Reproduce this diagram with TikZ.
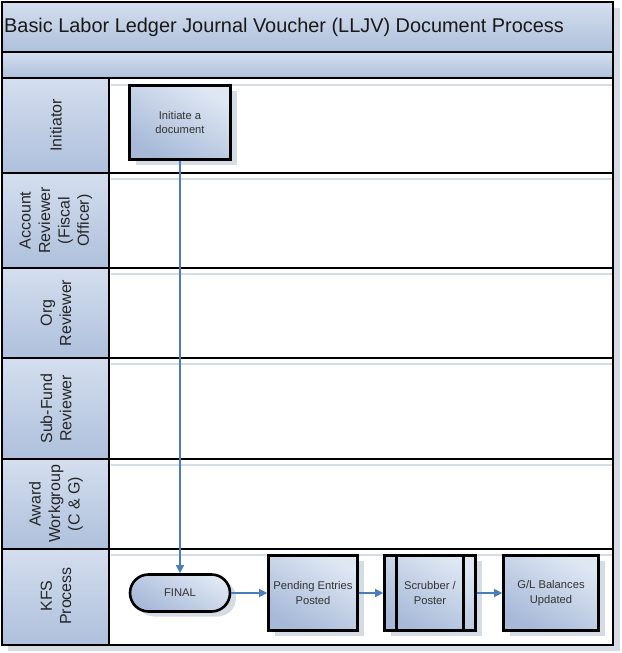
\documentclass[tikz,border=0pt]{standalone}
\usepackage{fontspec}
\setmainfont{Liberation Sans}
\usetikzlibrary{shadows,calc,arrows.meta}
\definecolor{hdlight}{HTML}{D4DEEE}
\definecolor{hddark}{HTML}{AEC0DC}
\definecolor{bxlight}{HTML}{DFE7F3}
\definecolor{bxdark}{HTML}{A6B9D8}
\definecolor{flow}{HTML}{4A7EBB}
\definecolor{lanesh}{HTML}{D5DCE6}
\newcommand{\lanefont}{\fontsize{16}{19.4}\selectfont}
\newcommand{\stepfont}{\fontsize{11.2}{14.5}\selectfont}

\begin{document}
\begin{tikzpicture}[ x = 1pt, y = -1pt,
                     hdr/.style={top color=hdlight,bottom color=hddark},
                     lanetxt/.style={rotate=90,align=center,text=black!85,inner sep=0pt,
                                     font=\lanefont},
                     stepbox/.style={draw=black,line width=2.6pt,top color=bxlight,
                                     bottom color=bxdark,shading angle=-30,
                                     align=center,text=black!80,inner sep=0pt,
                                     font=\stepfont,
                                     drop shadow={shadow xshift=6pt,shadow yshift=-5pt,
                                                  fill=lanesh,opacity=1}},
                     grid/.style={draw=black,line width=2.6pt},
                     flowline/.style={draw=flow,line width=1.2pt,
                                      -{Triangle[length=8pt,width=8pt]}},
                   ]
 \useasboundingbox (0,0) rectangle (621,653);

 \fill[lanesh] (8,8) rectangle (620,651);
 \fill[white] (2,2) rectangle (613,645);

 \shade[hdr] (2,2)   rectangle (613,52);
 \shade[hdr] (2,52)  rectangle (613,78);
 \shade[hdr] (2,78)  rectangle (109,173);
 \shade[hdr] (2,173) rectangle (109,268);
 \shade[hdr] (2,268) rectangle (109,358);
 \shade[hdr] (2,358) rectangle (109,459);
 \shade[hdr] (2,459) rectangle (109,549);
 \shade[hdr] (2,549) rectangle (109,645);

 \draw[lanesh,line width=2pt] (111,85)  -- (620,85);
 \draw[lanesh,line width=2pt] (111,179) -- (620,179);
 \draw[lanesh,line width=2pt] (111,274) -- (620,274);
 \draw[lanesh,line width=2pt] (111,364) -- (620,364);
 \draw[lanesh,line width=2pt] (111,465) -- (620,465);
 \draw[lanesh,line width=2pt] (111,555) -- (620,555);

 \draw[grid] (2,52)  -- (613,52);
 \draw[grid] (2,78)  -- (613,78);
 \draw[grid] (2,173) -- (613,173);
 \draw[grid] (2,268) -- (613,268);
 \draw[grid] (2,358) -- (613,358);
 \draw[grid] (2,459) -- (613,459);
 \draw[grid] (2,549) -- (613,549);
 \draw[grid] (109,78) -- (109,645);
 \draw[grid] (2,2) rectangle (613,645);

 \draw (4,27) node[anchor=west,inner sep=0pt,text=black!90,
                   font=\fontsize{19.9}{22}\selectfont] (title)
              {Basic Labor Ledger Journal Voucher (LLJV) Document Process};

 \draw (56,125.5) node[lanetxt] (initiator) {Initiator};
 \draw (56,220.5) node[lanetxt] (account)
              {Account\\Reviewer\\(Fiscal\\Officer)};
 \draw (56,313)   node[lanetxt] (org)     {Org\\Reviewer};
 \draw (56,408.5) node[lanetxt] (subfund) {Sub-Fund\\Reviewer};
 \draw (56,504)   node[lanetxt] (award)
              {Award\\Workgroup\\(C \& G)};
 \draw (56,596)   node[lanetxt] (kfs)     {KFS\\Process};

 \draw (180,122.5) node[stepbox,minimum width=101pt,minimum height=74pt] (init)
              {Initiate a\\document};

 \draw (180,593) node[stepbox,minimum width=100pt,minimum height=37pt,
                      rounded corners=18.5pt] (final)
              {FINAL};

 \draw (313,593) node[stepbox,minimum width=89pt,minimum height=75pt] (pending)
              {Pending Entries\\Posted};

 \draw (430,593) node[stepbox,minimum width=91pt,minimum height=75pt] (scrub)
              {Scrubber /\\Poster};
 \draw[grid] ($(scrub.north west)+(13.5,0)$) -- ($(scrub.south west)+(13.5,0)$);
 \draw[grid] ($(scrub.north east)+(-13.5,0)$) -- ($(scrub.south east)+(-13.5,0)$);

 \draw (551,593) node[stepbox,minimum width=95pt,minimum height=75pt] (glbal)
              {G/L Balances\\Updated};

 \draw[flowline] (init.south) -- (final.north);
 \draw[flowline] (final.east) -- (pending.west);
 \draw[flowline] (pending.east) -- (scrub.west);
 \draw[flowline] (scrub.east) -- (glbal.west);

\end{tikzpicture}
\end{document}
